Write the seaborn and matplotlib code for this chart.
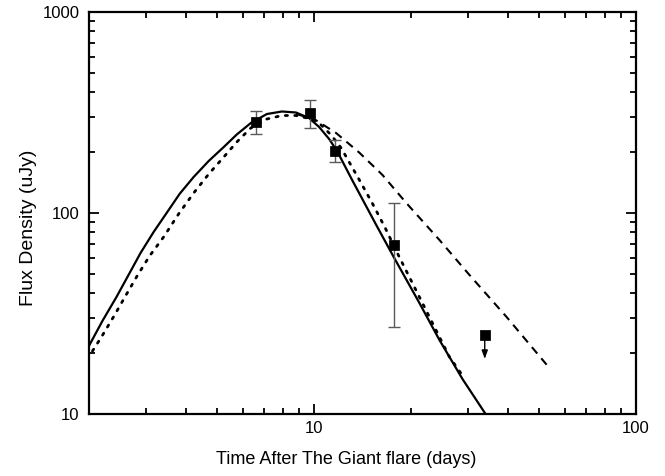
import numpy as np
import matplotlib
matplotlib.use("Agg")
import matplotlib.pyplot as plt
import seaborn as sns
from matplotlib.ticker import LogLocator, NullFormatter, FuncFormatter

# observed points (days, uJy) with lower / upper error bar ends
obs_t = [6.6, 9.7, 11.6, 17.7]
obs_f = [284, 314, 203, 69]
obs_lo = [247, 265, 179, 27]
obs_hi = [321, 365, 231, 112]

# upper limit
lim_t = [33.9]
lim_f = [24.7]
lim_tip = [18.2]

# model curves
solid_t = [1.991, 2.201, 2.434, 2.653, 2.891, 3.175, 3.484, 3.824, 4.228, 4.709, 5.244, 5.755,
           6.364, 7.139, 7.950, 8.789, 9.647, 10.37, 11.14, 11.79, 13.13, 15.60, 17.75, 21.24,
           24.52, 28.91, 34.10]
solid_f = [21.54, 29.02, 38.20, 49.14, 63.24, 80.44, 100.0, 124.5, 151.1, 181.5, 213.0, 245.8,
           280.4, 310.8, 319.9, 316.2, 296.9, 267.9, 233.4, 203.4, 146.0, 87.2, 59.7, 35.7,
           23.34, 14.93, 10.0]

dot_t = [1.977, 2.186, 2.382, 2.596, 2.809, 3.084, 3.410, 3.796, 4.228, 4.709, 5.244, 5.755,
         6.364, 7.139, 7.950, 8.789, 9.647, 10.37, 11.30, 12.14, 13.61, 15.16, 16.64, 18.40,
         21.70, 26.34, 28.70]
dot_f = [18.77, 24.16, 30.38, 38.64, 48.03, 61.11, 75.95, 98.86, 125.7, 156.3, 189.9, 225.5,
         264.8, 293.5, 305.5, 305.5, 295.2, 280.4, 244.4, 210.6, 152.8, 112.1, 84.2, 60.4,
         35.7, 19.21, 15.81]

dash_t = [8.789, 10.0, 11.71, 13.81, 16.29, 19.35, 24.52, 30.40, 39.64, 53.19]
dash_f = [310.8, 293.5, 250.0, 200.0, 155.0, 112.1, 73.4, 49.14, 30.38, 17.33]

sns.set_style("ticks")
plt.rcParams["font.family"] = ["Liberation Sans", "DejaVu Sans"]
plt.rcParams["text.color"] = "black"
plt.rcParams["axes.labelcolor"] = "black"
plt.rcParams["xtick.color"] = "black"
plt.rcParams["ytick.color"] = "black"

fig = plt.figure(figsize=(6.65, 4.76), dpi=100)
ax = fig.add_axes([89 / 665, 1 - 414 / 476, 547 / 665, 402 / 476])

sns.lineplot(x=solid_t, y=solid_f, ax=ax, color="black", lw=1.6, sort=False)
sns.lineplot(x=dot_t, y=dot_f, ax=ax, color="black", lw=2.0, sort=False,
             linestyle=(0, (0.8, 2.6)), dash_capstyle="round")
sns.lineplot(x=dash_t, y=dash_f, ax=ax, color="black", lw=1.5, sort=False,
             linestyle=(0, (4, 3)))

yerr = [np.array(obs_f) - np.array(obs_lo), np.array(obs_hi) - np.array(obs_f)]
ax.errorbar(obs_t, obs_f, yerr=yerr, fmt="none", ecolor="#5a5a5a",
            elinewidth=1.0, capsize=4, capthick=1.0)
sns.scatterplot(x=obs_t + lim_t, y=obs_f + lim_f, ax=ax, marker="s", s=45,
                color="black", edgecolor="black", zorder=5)
for t, f, tip in zip(lim_t, lim_f, lim_tip):
    ax.annotate("", xy=(t, tip), xytext=(t, f),
                arrowprops=dict(arrowstyle="-|>,head_length=0.5,head_width=0.18",
                                color="black", lw=1.0))

ax.set_xscale("log")
ax.set_yscale("log")
ax.set_xlim(2, 100)
ax.set_ylim(10, 1000)

ax.xaxis.set_major_locator(LogLocator(base=10))
ax.xaxis.set_minor_locator(LogLocator(base=10, subs=np.arange(2, 10)))
ax.yaxis.set_major_locator(LogLocator(base=10))
ax.yaxis.set_minor_locator(LogLocator(base=10, subs=np.arange(2, 10)))
fmt = FuncFormatter(lambda v, p: f"{v:g}")
ax.xaxis.set_major_formatter(fmt)
ax.yaxis.set_major_formatter(fmt)
ax.xaxis.set_minor_formatter(NullFormatter())
ax.yaxis.set_minor_formatter(NullFormatter())

ax.tick_params(which="both", direction="in", top=True, right=True,
               color="black", labelsize=12, width=1.3)
ax.tick_params(which="major", length=7)
ax.tick_params(axis="x", which="major", pad=5)
ax.tick_params(axis="y", which="major", pad=7)
ax.tick_params(which="minor", length=4)
for s in ax.spines.values():
    s.set_linewidth(1.6)
    s.set_color("black")

ax.set_xlabel("Time After The Giant flare (days)", fontsize=13)
ax.set_ylabel("Flux Density (uJy)", fontsize=14)
ax.xaxis.set_label_coords(0.470, -0.092)
ax.yaxis.set_label_coords(-0.095, 0.463)

fig.savefig("out.png", dpi=100)
